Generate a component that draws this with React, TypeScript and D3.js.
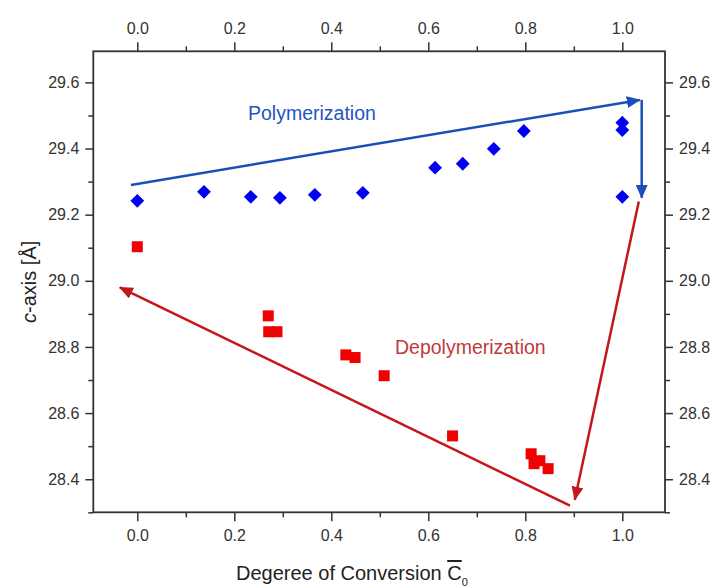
import React, { useEffect, useRef } from "react";
import * as d3 from "d3";

const polyX = [0, 0.1375, 0.234, 0.294, 0.366, 0.465, 0.614, 0.671, 0.735, 0.797, 1.0, 1.0, 1.0];
const polyY = [29.242, 29.269, 29.254, 29.251, 29.26, 29.266, 29.342, 29.354, 29.399, 29.453, 29.478, 29.456, 29.254];

const depolyX = [0, 0.27, 0.271, 0.288, 0.43, 0.449, 0.509, 0.65, 0.812, 0.818, 0.83, 0.847];
const depolyY = [29.103, 28.894, 28.846, 28.846, 28.776, 28.768, 28.713, 28.531, 28.477, 28.447, 28.456, 28.432];

const xTicks = [0, 0.2, 0.4, 0.6, 0.8, 1.0];
const yTicks = [28.4, 28.6, 28.8, 29.0, 29.2, 29.4, 29.6];

// guide arrows, in data units: [x1, y1, x2, y2]
const blueArrows = [
  [-0.013, 29.29, 1.036, 29.547],
  [1.04, 29.547, 1.04, 29.251],
];
const redArrows = [
  [1.034, 29.24, 0.902, 28.338],
  [0.892, 28.32, -0.036, 28.98],
];

export default function App() {
  const ref = useRef<SVGSVGElement>(null);

  useEffect(() => {
    const width = 721;
    const height = 588;
    const left = 93.3, right = 665, top = 51.3, bottom = 512.3;

    const svg = d3.select(ref.current);
    svg.selectAll("*").remove();

    const x = d3.scaleLinear().domain([-0.0907, 1.088]).range([left, right]);
    const y = d3.scaleLinear().domain([28.3, 29.694]).range([bottom, top]);

    const defs = svg.append("defs");
    const mk = (id: string, color: string) =>
      defs.append("marker")
        .attr("id", id)
        .attr("viewBox", "0 0 14 12")
        .attr("refX", 13)
        .attr("refY", 6)
        .attr("markerWidth", 14)
        .attr("markerHeight", 12)
        .attr("markerUnits", "userSpaceOnUse")
        .attr("orient", "auto")
        .append("path")
        .attr("d", "M0,0 L14,6 L0,12 Z")
        .attr("fill", color);
    mk("arrBlue", "#1a4fba");
    mk("arrRed", "#c4161c");

    const font = "'Liberation Sans', Arial, sans-serif";
    const axisColor = "#333";

    const styleAxis = (g: any) => {
      g.select(".domain").remove();
      g.selectAll("line").attr("stroke", axisColor).attr("stroke-width", 1.5);
      g.selectAll("text").attr("font-family", font).attr("font-size", 16).attr("fill", "#333");
    };
    const minorX = d3.range(-0.0, 1.05, 0.1).filter((v) => Math.round(v * 10) % 2 === 1);
    const minorY = d3.range(28.3, 29.7, 0.1).map((v) => +v.toFixed(1)).filter((v) => Math.round(v * 10) % 2 === 1);

    const addMinor = (g: any, axis: any) => g.call(axis).call((s: any) => {
      s.select(".domain").remove();
      s.selectAll("text").remove();
      s.selectAll("line").attr("stroke", axisColor).attr("stroke-width", 1.5);
    });

    // bottom
    svg.append("g").attr("transform", `translate(0,${bottom})`)
      .call(d3.axisBottom(x).tickValues(xTicks).tickSize(9).tickPadding(8).tickFormat(d3.format(".1f")))
      .call(styleAxis);
    addMinor(svg.append("g").attr("transform", `translate(0,${bottom})`),
      d3.axisBottom(x).tickValues(minorX).tickSize(5));
    // top
    svg.append("g").attr("transform", `translate(0,${top})`)
      .call(d3.axisTop(x).tickValues(xTicks).tickSize(9).tickPadding(8).tickFormat(d3.format(".1f")))
      .call(styleAxis);
    addMinor(svg.append("g").attr("transform", `translate(0,${top})`),
      d3.axisTop(x).tickValues(minorX).tickSize(5));
    // left
    svg.append("g").attr("transform", `translate(${left},0)`)
      .call(d3.axisLeft(y).tickValues(yTicks).tickSize(8).tickPadding(6).tickFormat(d3.format(".1f")))
      .call(styleAxis);
    addMinor(svg.append("g").attr("transform", `translate(${left},0)`),
      d3.axisLeft(y).tickValues(minorY).tickSize(5));
    // right
    svg.append("g").attr("transform", `translate(${right},0)`)
      .call(d3.axisRight(y).tickValues(yTicks).tickSize(8).tickPadding(6).tickFormat(d3.format(".1f")))
      .call(styleAxis);
    addMinor(svg.append("g").attr("transform", `translate(${right},0)`),
      d3.axisRight(y).tickValues(minorY).tickSize(5));

    // frame
    svg.append("rect")
      .attr("x", left).attr("y", top)
      .attr("width", right - left).attr("height", bottom - top)
      .attr("fill", "none").attr("stroke", axisColor).attr("stroke-width", 1.8);

    // arrows
    svg.selectAll(".blueArrow").data(blueArrows).enter().append("line")
      .attr("x1", (d) => x(d[0])).attr("y1", (d) => y(d[1]))
      .attr("x2", (d) => x(d[2])).attr("y2", (d) => y(d[3]))
      .attr("stroke", "#1a4fba").attr("stroke-width", 2.5)
      .attr("marker-end", "url(#arrBlue)");
    svg.selectAll(".redArrow").data(redArrows).enter().append("line")
      .attr("x1", (d) => x(d[0])).attr("y1", (d) => y(d[1]))
      .attr("x2", (d) => x(d[2])).attr("y2", (d) => y(d[3]))
      .attr("stroke", "#c4161c").attr("stroke-width", 2.5)
      .attr("marker-end", "url(#arrRed)");

    // diamonds
    const diamond = d3.symbol().type(d3.symbolSquare).size(95);
    svg.selectAll(".poly").data(polyX.map((v, i) => [v, polyY[i]])).enter().append("path")
      .attr("d", diamond)
      .attr("transform", (d) => `translate(${x(d[0])},${y(d[1])}) rotate(45)`)
      .attr("fill", "#0000f0");

    // squares
    const sq = 11;
    svg.selectAll(".depoly").data(depolyX.map((v, i) => [v, depolyY[i]])).enter().append("rect")
      .attr("x", (d) => x(d[0]) - sq / 2).attr("y", (d) => y(d[1]) - sq / 2)
      .attr("width", sq).attr("height", sq)
      .attr("fill", "#f00000");

    // annotations
    svg.append("text").attr("x", 248).attr("y", 120)
      .attr("font-family", font).attr("font-size", 19.5).attr("fill", "#1f55c4")
      .text("Polymerization");
    svg.append("text").attr("x", 395).attr("y", 354)
      .attr("font-family", font).attr("font-size", 19.5).attr("fill", "#c0393b")
      .text("Depolymerization");

    // axis titles
    const yl = svg.append("text")
      .attr("transform", `translate(36,${(top + bottom) / 2}) rotate(-90)`)
      .attr("text-anchor", "middle")
      .attr("font-family", font).attr("font-size", 20).attr("fill", "#222");
    yl.append("tspan").attr("font-style", "italic").text("c");
    yl.append("tspan").text("-axis [Å]");

    const xl = svg.append("text")
      .attr("x", 236).attr("y", 580)
      .attr("font-family", font).attr("font-size", 20).attr("fill", "#222");
    xl.append("tspan").text("Degeree of Conversion  ");
    xl.append("tspan").attr("text-decoration", "overline").text("C");
    xl.append("tspan").attr("font-size", 11).attr("dy", 6).text("0");

    svg.attr("width", width).attr("height", height);
  }, []);

  return (
    <svg ref={ref} width={721} height={588} style={{ position: "absolute", left: 0, top: 0, background: "#fff" }} />
  );
}
